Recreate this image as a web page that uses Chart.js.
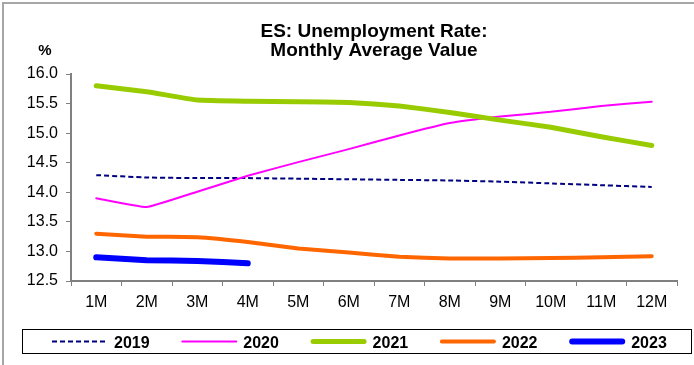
<!DOCTYPE html>
<html>
<head>
<meta charset="utf-8">
<script src="https://cdn.jsdelivr.net/npm/chart.js@4/dist/chart.umd.min.js"></script>
<style>
  html, body { margin: 0; padding: 0; background: #ffffff; }
  #wrap { width: 694px; height: 365px; position: relative; }
</style>
</head>
<body>
<div id="wrap"><canvas id="c" width="694" height="365"></canvas></div>
<script>
const titleLines = ["ES: Unemployment Rate:", "Monthly Average Value"];
const yUnit = "%";
const categories = ["1M","2M","3M","4M","5M","6M","7M","8M","9M","10M","11M","12M"];
const seriesNames = ["2019","2020","2021","2022","2023"];
const v2019 = [14.29,14.25,14.24,14.24,14.23,14.22,14.21,14.20,14.18,14.15,14.12,14.09];
const v2020 = [13.90,13.75,14.01,14.28,14.51,14.73,14.96,15.17,15.28,15.36,15.46,15.53];
const v2021 = [15.80,15.70,15.56,15.54,15.53,15.52,15.46,15.35,15.22,15.10,14.94,14.79];
const v2022 = [13.30,13.25,13.24,13.16,13.05,12.98,12.91,12.88,12.88,12.89,12.90,12.92];
const v2023 = [12.90,12.85,12.84,12.80];
const yTicks = [12.5,13.0,13.5,14.0,14.5,15.0,15.5,16.0];

const FONT = "'Liberation Sans', Arial, Helvetica, sans-serif";
const AXIS = '#808080';

const styles = [
  {color:'#000080', width:2, dash:[5,3], cap:'butt'},
  {color:'#FF00FF', width:2, dash:[], cap:'round'},
  {color:'#99CC00', width:5, dash:[], cap:'round'},
  {color:'#FF6600', width:4, dash:[], cap:'round'},
  {color:'#0000FF', width:6, dash:[], cap:'round'}
];
const values = [v2019, v2020, v2021, v2022, v2023];

const datasets = seriesNames.map((n, i) => ({
  label: n,
  data: values[i],
  borderColor: styles[i].color,
  backgroundColor: styles[i].color,
  borderWidth: styles[i].width,
  borderDash: styles[i].dash,
  borderCapStyle: styles[i].cap,
  borderJoinStyle: 'round',
  pointRadius: 0,
  pointHoverRadius: 0,
  tension: 0.1,
  fill: false,
  order: seriesNames.length - 1 - i
}));

const decor = {
  id: 'decor',
  beforeDraw(chart) {
    const ctx = chart.ctx;
    ctx.save();
    ctx.fillStyle = '#ffffff';
    ctx.fillRect(0, 0, chart.width, chart.height);
    ctx.strokeStyle = '#a6a6a6';
    ctx.lineWidth = 2;
    ctx.beginPath();
    ctx.moveTo(3, chart.height);
    ctx.lineTo(3, 3);
    ctx.lineTo(chart.width, 3);
    ctx.stroke();
    ctx.restore();
  },
  afterDraw(chart) {
    const ctx = chart.ctx;
    const ca = chart.chartArea;
    ctx.save();
    // title
    ctx.fillStyle = '#000';
    ctx.textAlign = 'center';
    ctx.textBaseline = 'alphabetic';
    ctx.font = 'bold 19px ' + FONT;
    const cx = (ca.left + ca.right) / 2;
    ctx.fillText(titleLines[0], cx, 37);
    ctx.fillText(titleLines[1], cx, 56);
    // unit
    ctx.font = 'bold 15px ' + FONT;
    ctx.fillText(yUnit, 45, 55);
    // legend
    ctx.strokeStyle = '#000';
    ctx.lineWidth = 1;
    ctx.setLineDash([]);
    ctx.strokeRect(22.5, 329.5, 669, 24);
    ctx.font = 'bold 16px ' + FONT;
    ctx.textAlign = 'left';
    chart.data.datasets.forEach((ds, i) => {
      const x0 = 52 + i * 129.3;
      const y = 341.5;
      ctx.beginPath();
      ctx.strokeStyle = ds.borderColor;
      ctx.lineWidth = ds.borderWidth;
      ctx.lineCap = ds.borderCapStyle;
      ctx.setLineDash(ds.borderDash || []);
      const pad = ds.borderCapStyle === 'round' ? ds.borderWidth / 2 : 0;
      ctx.moveTo(x0 + pad, y);
      ctx.lineTo(x0 + 56 - pad, y);
      ctx.stroke();
      ctx.setLineDash([]);
      ctx.fillStyle = '#000';
      ctx.fillText(ds.label, x0 + 62, 347.5);
    });
    ctx.restore();
  }
};

new Chart(document.getElementById('c'), {
  type: 'line',
  data: { labels: categories, datasets },
  plugins: [decor],
  options: {
    responsive: false,
    animation: false,
    events: [],
    layout: { padding: { top: 74, right: 17, bottom: 54, left: 0 } },
    plugins: {
      legend: { display: false },
      title: { display: false },
      tooltip: { enabled: false }
    },
    scales: {
      x: {
        type: 'category',
        offset: true,
        afterFit(s) { s.height = 30; },
        grid: { display: true, drawOnChartArea: false, drawTicks: true, tickLength: 5, color: AXIS, offset: true },
        border: { display: true, color: AXIS, width: 2 },
        ticks: { color: '#000', font: { family: FONT, size: 16 }, padding: 7, maxRotation: 0, autoSkip: false }
      },
      y: {
        min: 12.5,
        max: 16,
        afterFit(s) { s.width = 71; },
        afterBuildTicks(s) { s.ticks = yTicks.map(v => ({ value: v })); },
        grid: { display: true, drawOnChartArea: false, drawTicks: true, tickLength: 5, color: AXIS },
        border: { display: true, color: AXIS, width: 2 },
        ticks: { color: '#000', font: { family: FONT, size: 16 }, padding: 8, callback: v => Number(v).toFixed(1) }
      }
    }
  }
});
</script>
</body>
</html>
